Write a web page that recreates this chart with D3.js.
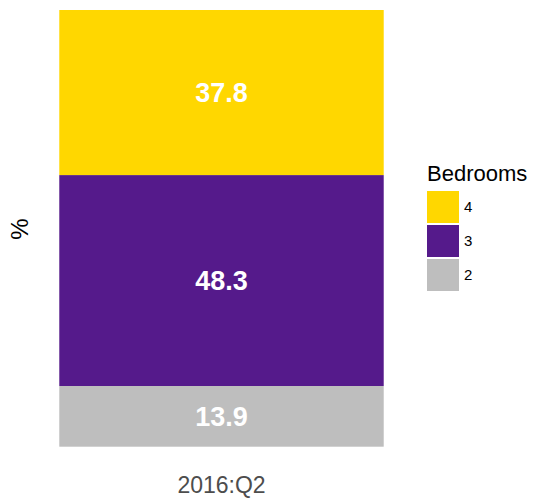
<!DOCTYPE html>
<meta charset="utf-8">
<style>
body { margin: 0; }
text { font-family: 'Liberation Sans', Arial, sans-serif; }
</style>
<script src="https://d3js.org/d3.v7.min.js"></script>
<div id="chart"></div>
<script>
// data
var quarters = ["2016:Q2"];
var bedrooms = ["2", "3", "4"];          // stacking order, bottom to top
var shares = [13.9, 48.3, 37.8];
var colours = ["#BEBEBE", "#551A8B", "#FFD700"];

var width = 537, height = 499;
var svg = d3.select("#chart").append("svg")
    .attr("width", width)
    .attr("height", height);

var x = d3.scaleBand().domain(quarters).range([44, 399]).padding(0.045);
var y = d3.scaleLinear().domain([0, 100]).range([446.7, 10]);

// stacked segments
var cum = 0;
var segs = bedrooms.map(function(b, i) {
    var s = {bed: b, v: shares[i], y0: cum, y1: cum + shares[i], col: colours[i]};
    cum += shares[i];
    return s;
});

svg.append("g").selectAll("rect")
    .data(segs)
    .enter().append("rect")
    .attr("x", x(quarters[0]))
    .attr("width", x.bandwidth())
    .attr("y", function(d) { return y(d.y1); })
    .attr("height", function(d) { return y(d.y0) - y(d.y1); })
    .attr("fill", function(d) { return d.col; });

svg.append("g").selectAll("text")
    .data(segs)
    .enter().append("text")
    .attr("x", x(quarters[0]) + x.bandwidth() / 2)
    .attr("y", function(d) { return y((d.y0 + d.y1) / 2); })
    .attr("dy", "0.36em")
    .attr("text-anchor", "middle")
    .style("font-size", "27px")
    .style("font-weight", "bold")
    .attr("fill", "white")
    .text(function(d) { return d.v.toFixed(1); });

// axis labels
svg.append("text")
    .attr("x", x(quarters[0]) + x.bandwidth() / 2)
    .attr("y", 493)
    .attr("text-anchor", "middle")
    .style("font-size", "23px")
    .attr("fill", "#4D4D4D")
    .text(quarters[0]);

svg.append("text")
    .attr("transform", "translate(28,229)rotate(-90)")
    .attr("text-anchor", "middle")
    .style("font-size", "24px")
    .attr("fill", "black")
    .text("%");

// legend
var leg = svg.append("g").attr("transform", "translate(427,0)");
leg.append("text")
    .attr("x", 0)
    .attr("y", 181)
    .style("font-size", "22px")
    .text("Bedrooms");

var legItems = segs.slice().reverse();
var keys = leg.selectAll("g.key")
    .data(legItems)
    .enter().append("g")
    .attr("class", "key")
    .attr("transform", function(d, i) { return "translate(0," + (191 + i * 34) + ")"; });
keys.append("rect")
    .attr("width", 32)
    .attr("height", 32)
    .attr("fill", function(d) { return d.col; });
keys.append("text")
    .attr("x", 37)
    .attr("y", 16)
    .attr("dy", "0.36em")
    .style("font-size", "15px")
    .text(function(d) { return d.bed; });
</script>
